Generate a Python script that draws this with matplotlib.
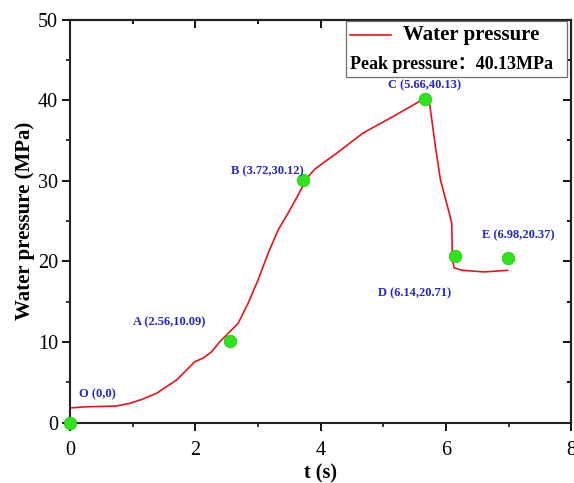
import matplotlib
matplotlib.use("Agg")
import matplotlib.pyplot as plt
from matplotlib.lines import Line2D
from matplotlib.patches import Rectangle

plt.rcParams['font.family'] = ['Liberation Serif', 'Noto Sans CJK SC', 'DejaVu Sans']

# Measured water pressure history
t_s = [0.03, 0.20, 0.37, 0.74, 0.95, 1.15, 1.38, 1.70, 1.94, 1.99, 2.12, 2.26,
       2.39, 2.55, 2.68, 2.84, 3.00, 3.16, 3.32, 3.48, 3.64, 3.73, 3.80, 3.90,
       4.00, 4.25, 4.67, 5.15, 5.52, 5.64, 5.74, 5.83, 5.91, 6.05, 6.09, 6.10,
       6.13, 6.26, 6.61, 6.98]
pressure_mpa = [1.85, 1.95, 2.0, 2.07, 2.4, 2.9, 3.65, 5.3, 7.16, 7.57, 8.0, 8.8,
                10.05, 11.3, 12.3, 14.8, 17.7, 21.0, 23.9, 26.0, 28.25, 29.6, 30.5, 31.4,
                32.0, 33.4, 35.9, 37.96, 39.6, 40.16, 39.4, 34.2, 30.1, 26.0, 24.7, 20.2,
                19.2, 18.9, 18.7, 18.9]

# Key points
key_names = ['O', 'A', 'B', 'C', 'D', 'E']
key_t = [0, 2.56, 3.72, 5.66, 6.14, 6.98]
key_p = [0, 10.09, 30.12, 40.13, 20.71, 20.37]
key_labels = ['O (0,0)', 'A (2.56,10.09)', 'B (3.72,30.12)', 'C (5.66,40.13)',
              'D (6.14,20.71)', 'E (6.98,20.37)']
peak_pressure = 40.13

x_ticks = [0, 2, 4, 6, 8]
y_ticks = [0, 10, 20, 30, 40, 50]
x_minor = [1, 3, 5, 7]
y_minor = [5, 15, 25, 35, 45]

# label offsets (points) from each key point
label_offsets = [(20, 20.5), (-44, 13.5), (-25.5, 6), (0, 10.3), (-29, -27), (8, 17)]

fig = plt.figure(figsize=(5.74, 4.83), dpi=100)
ax = fig.add_axes([0.1220, 0.1248, 0.8736, 0.8348])

ax.plot(t_s, pressure_mpa, color='#e8141c', lw=1.2, zorder=3)
ax.plot(key_t, key_p, linestyle='none', marker='o', markersize=9,
        markerfacecolor='#2fe41c', markeredgecolor='#28cc14', markeredgewidth=0.6,
        clip_on=False, zorder=5)

for lab, xv, yv, off in zip(key_labels, key_t, key_p, label_offsets):
    ax.annotate(lab, (xv, yv), xytext=off, textcoords='offset points',
                ha='center', va='center', fontsize=9, fontweight='bold',
                color='#2424c8', zorder=6)

ax.set_xlim(0, 8)
ax.set_ylim(0, 50)
ax.set_xticks(x_ticks)
ax.set_yticks(y_ticks)
ax.set_xticks(x_minor, minor=True)
ax.set_yticks(y_minor, minor=True)
ax.tick_params(which='major', direction='out', length=5.5, width=1.3,
               labelsize=14.5, pad=8)
ax.tick_params(axis='y', which='major', pad=3)
ax.tick_params(which='minor', direction='out', length=3, width=1.1)
for sp in ax.spines.values():
    sp.set_linewidth(1.5)
    sp.set_color('#222222')

# mirrored ticks on top and right pointing inwards
top = ax.secondary_xaxis('top')
top.set_xticks(x_ticks)
top.set_xticks(x_minor, minor=True)
top.tick_params(which='both', direction='in', labeltop=False, width=1.3)
top.tick_params(which='major', length=5.5)
top.tick_params(which='minor', length=3)
top.spines['top'].set_linewidth(1.5)
right = ax.secondary_yaxis('right')
right.set_yticks(y_ticks)
right.set_yticks(y_minor, minor=True)
right.tick_params(which='both', direction='in', labelright=False, width=1.3)
right.tick_params(which='major', length=5.5)
right.tick_params(which='minor', length=3)
right.spines['right'].set_linewidth(1.5)

ax.set_xlabel('t (s)', fontsize=14.5, fontweight='bold', labelpad=2)
ax.set_ylabel('Water pressure (MPa)', fontsize=15, fontweight='bold', labelpad=2)

# legend box
ax.add_patch(Rectangle((0.5504, 0.8566), 0.44, 0.1404, transform=ax.transAxes,
                       facecolor='white', edgecolor='#707070', lw=0.9, zorder=7))
ax.add_line(Line2D([0.558, 0.641], [0.9616, 0.9616], transform=ax.transAxes,
                   color='#e8141c', lw=1.2, zorder=8))
ax.text(0.664, 0.9616, 'Water pressure', transform=ax.transAxes, ha='left',
        va='center', fontsize=15, fontweight='bold', zorder=8)
ax.text(0.558, 0.8896, f'Peak pressure：{peak_pressure:.2f}MPa', transform=ax.transAxes,
        ha='left', va='center', fontsize=13, fontweight='bold', zorder=8)

fig.savefig('out.png', dpi=100)
